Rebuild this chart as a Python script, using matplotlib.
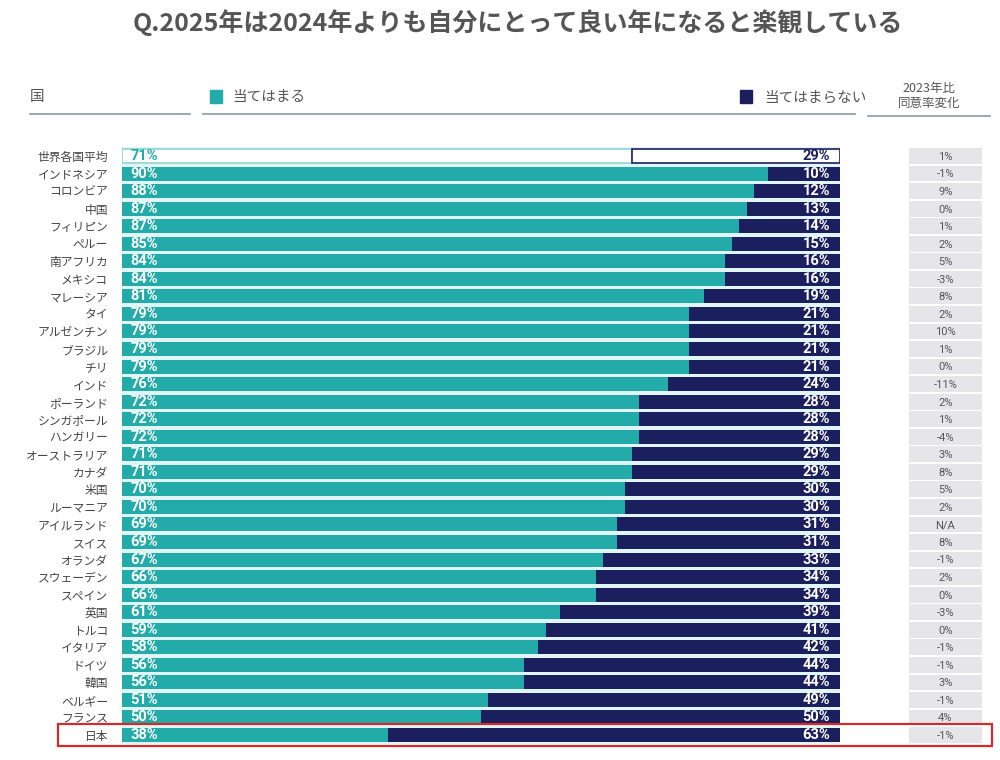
import matplotlib
matplotlib.use("Agg")
import matplotlib.pyplot as plt
from matplotlib.patches import Rectangle
from matplotlib.lines import Line2D
from matplotlib.transforms import blended_transform_factory

plt.rcParams['font.family'] = ['Noto Sans CJK JP', 'DejaVu Sans']

# data
countries = ['世界各国平均', 'インドネシア', 'コロンビア', '中国', 'フィリピン', 'ペルー',
             '南アフリカ', 'メキシコ', 'マレーシア', 'タイ', 'アルゼンチン', 'ブラジル', 'チリ',
             'インド', 'ポーランド', 'シンガポール', 'ハンガリー', 'オーストラリア', 'カナダ',
             '米国', 'ルーマニア', 'アイルランド', 'スイス', 'オランダ', 'スウェーデン', 'スペイン',
             '英国', 'トルコ', 'イタリア', 'ドイツ', '韓国', 'ベルギー', 'フランス', '日本']
agree = [71, 90, 88, 87, 87, 85, 84, 84, 81, 79, 79, 79, 79, 76, 72, 72, 72, 71, 71,
         70, 70, 69, 69, 67, 66, 66, 61, 59, 58, 56, 56, 51, 50, 38]
disagree = [29, 10, 12, 13, 14, 15, 16, 16, 19, 21, 21, 21, 21, 24, 28, 28, 28, 29, 29,
            30, 30, 31, 31, 33, 34, 34, 39, 41, 42, 44, 44, 49, 50, 63]
change = ['1%', '-1%', '9%', '0%', '1%', '2%', '5%', '-3%', '8%', '2%', '10%', '1%', '0%',
          '-11%', '2%', '1%', '-4%', '3%', '8%', '5%', '2%', 'N/A', '8%', '-1%', '2%', '0%',
          '-3%', '0%', '-1%', '-1%', '3%', '-1%', '4%', '-1%']

TEAL = '#22aba9'
NAVY = '#1b1f5e'
GRAY = '#555555'

n = len(countries)
rows = list(range(n))

fig = plt.figure(figsize=(10, 7.6), dpi=100)

# main bars
ax = fig.add_axes([0.122, 0.0213, 0.718, 0.785])
ax.set_facecolor('#e2f5f5')
for i in rows:
    if i == 0:
        ax.barh(i, agree[i], height=0.8, color='white', edgecolor='#8fd6d4', linewidth=1.2)
        ax.barh(i, disagree[i], left=100 - disagree[i], height=0.8, color='white',
                edgecolor=NAVY, linewidth=1.2)
        c1, c2 = TEAL, NAVY
    else:
        ax.barh(i, agree[i], height=0.8, color=TEAL, edgecolor='none')
        ax.barh(i, disagree[i], left=100 - disagree[i], height=0.8, color=NAVY, edgecolor='none')
        c1, c2 = 'white', 'white'
    ax.text(1.2, i, f'{agree[i]}%', color=c1, fontsize=10.5, fontweight='bold',
            family='Roboto', va='center', ha='left')
    ax.text(98.6, i, f'{disagree[i]}%', color=c2, fontsize=10.5, fontweight='bold',
            family='Roboto', va='center', ha='right')

ax.set_xlim(0, 100)
ax.set_ylim(n - 0.5, -0.5)
ax.set_yticks(rows)
ax.set_yticklabels(countries, fontsize=8.5, color='#444444')
ax.tick_params(axis='y', length=0, pad=10)
ax.set_xticks([])
for s in ax.spines.values():
    s.set_visible(False)

# right column: change vs 2023
ax2 = fig.add_axes([0.909, 0.0213, 0.073, 0.785])
ax2.barh(rows, [1] * n, height=0.9, color='#e6e6ea', edgecolor='none')
for i in rows:
    ax2.text(0.5, i + 0.05, change[i], ha='center', va='center', fontsize=8,
             color=GRAY, family='Roboto')
ax2.set_xlim(0, 1)
ax2.set_ylim(n - 0.5, -0.5)
ax2.axis('off')

# highlight Japan
tr = blended_transform_factory(fig.transFigure, ax.transData)
fig.patches.append(Rectangle((0.058, n - 1 - 0.62), 0.934, 1.25, transform=tr,
                             fill=False, edgecolor='#d22b2b', linewidth=1.6, clip_on=False))

# header
fig.text(0.518, 0.97, 'Q.2025年は2024年よりも自分にとって良い年になると楽観している',
         ha='center', va='center', fontsize=18, fontweight='bold', color=GRAY)
fig.text(0.03, 0.872, '国', ha='left', va='center', fontsize=10.5, color=GRAY)
fig.patches.append(Rectangle((0.210, 0.864), 0.012, 0.017, transform=fig.transFigure,
                             color=TEAL))
fig.text(0.232, 0.872, '当てはまる', ha='left', va='center', fontsize=10.5, color=GRAY)
fig.patches.append(Rectangle((0.740, 0.864), 0.012, 0.017, transform=fig.transFigure,
                             color=NAVY))
fig.text(0.764, 0.872, '当てはまらない', ha='left', va='center', fontsize=10.5, color=GRAY)
fig.text(0.929, 0.874, '2023年比\n同意率変化', ha='center', va='center', fontsize=9,
         color=GRAY, linespacing=1.2)
for x0, x1, y in [(0.030, 0.190, 0.850), (0.203, 0.855, 0.850), (0.868, 0.990, 0.847)]:
    fig.lines.append(Line2D([x0, x1], [y, y], transform=fig.transFigure,
                            color='#8a9aa6', linewidth=1.2))

fig.savefig('out.png', dpi=100)
